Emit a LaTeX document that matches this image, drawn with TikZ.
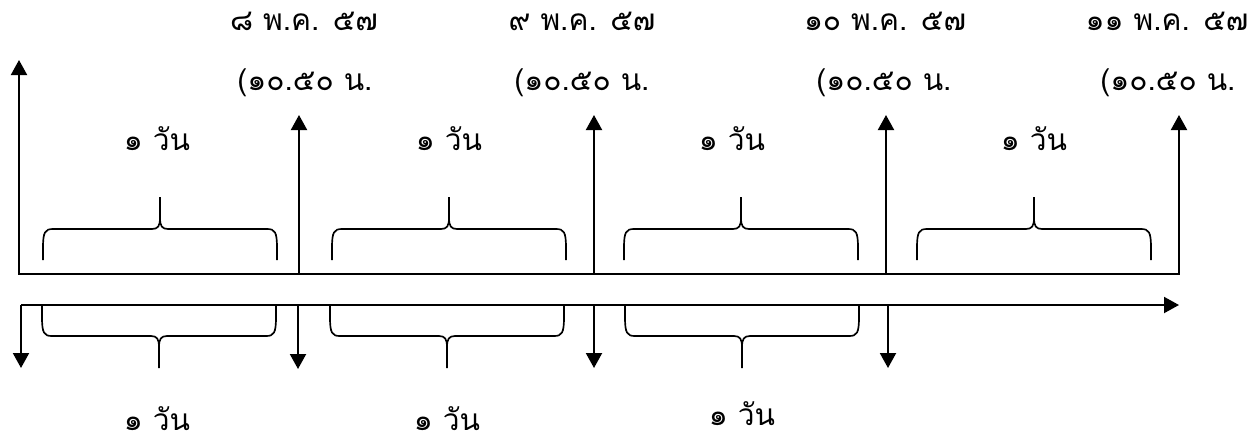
\documentclass[tikz,border=0pt]{standalone}
\usepackage{fontspec}
\newfontfamily\thaifont[Script=Thai]{Loma}
\usetikzlibrary{arrows.meta, positioning}

\begin{document}
\begin{tikzpicture}[
  x=0.02cm, y=-0.02cm,
  axisline/.style={line width=1.15pt, line cap=rect},
  arrow/.style={-{Triangle[length=3mm, width=3.2mm]}, line width=1.15pt},
  bracestroke/.style={line width=0.95pt},
  txt/.style={font=\thaifont\fontsize{17}{20}\selectfont, inner sep=0pt, anchor=base, text depth=0pt},
  daybrace/.pic={
    \draw[bracestroke] (-117,31) -- (-117,19) .. controls (-117,3) and (-115,0) .. (-107,0)
      -- (-8,0) .. controls (-2,0) and (0,-3) .. (0,-11) -- (0,-32);
    \draw[bracestroke] (117,31) -- (117,19) .. controls (117,3) and (115,0) .. (107,0)
      -- (8,0) .. controls (2,0) and (0,-3) .. (0,-11);
  }
]
\useasboundingbox (0,0) rectangle (1259,441);

% upper time line
\coordinate (u0) at (19,274);
\coordinate (u1) at (299,274);
\coordinate (u2) at (594,274);
\coordinate (u3) at (886,274);
\coordinate (u4) at (1179,274);
\coordinate (t0) at (19,60);
\coordinate (t1) at (299,115);
\coordinate (t2) at (594,115);
\coordinate (t3) at (886,115);
\coordinate (t4) at (1179,115);

\draw[axisline] (u0) -- (u4);
\draw[arrow] (u0) -- (t0);
\draw[arrow] (u1) -- (t1);
\draw[arrow] (u2) -- (t2);
\draw[arrow] (u3) -- (t3);
\draw[arrow] (u4) -- (t4);

% lower time line
\coordinate (l0) at (21,305);
\coordinate (l1) at (298,305);
\coordinate (l2) at (594,305);
\coordinate (l3) at (888,305);
\coordinate (lend) at (1179,305);
\coordinate (d0) at (21,368);
\coordinate (d1) at (298,369);
\coordinate (d2) at (594,368);
\coordinate (d3) at (888,368);

\draw[arrow] (l0) -- (lend);
\draw[arrow] (l0) -- (d0);
\draw[arrow] (l1) -- (d1);
\draw[arrow] (l2) -- (d2);
\draw[arrow] (l3) -- (d3);

% braces
\pic at (160,229) {daybrace};
\pic at (449,229) {daybrace};
\pic at (741,229) {daybrace};
\pic at (1034,229) {daybrace};
\pic[yscale=-1] at (159,336) {daybrace};
\pic[yscale=-1] at (447,336) {daybrace};
\pic[yscale=-1] at (742,336) {daybrace};

% dates
\node[txt] (date1) at (304,30) {๘ พ.ค. ๕๗};
\node[txt] (date2) at (582,30) {๙ พ.ค. ๕๗};
\node[txt] (date3) at (885,30) {๑๐ พ.ค. ๕๗};
\node[txt] (date4) at (1167,30) {๑๑ พ.ค. ๕๗};
\node[txt] (time1) at (305,90) {(๑๐.๕๐ น.};
\node[txt] (time2) at (582,90) {(๑๐.๕๐ น.};
\node[txt] (time3) at (884,90) {(๑๐.๕๐ น.};
\node[txt] (time4) at (1168,90) {(๑๐.๕๐ น.};

% one day spans
\node[txt] (dayA) at (157,150) {๑ วัน};
\node[txt] (dayB) at (449,150) {๑ วัน};
\node[txt] (dayC) at (732,150) {๑ วัน};
\node[txt] (dayD) at (1034,150) {๑ วัน};
\node[txt] (dayE) at (157,430) {๑ วัน};
\node[txt] (dayF) at (447,430) {๑ วัน};
\node[txt] (dayG) at (742,425) {๑ วัน};
\end{tikzpicture}
\end{document}
